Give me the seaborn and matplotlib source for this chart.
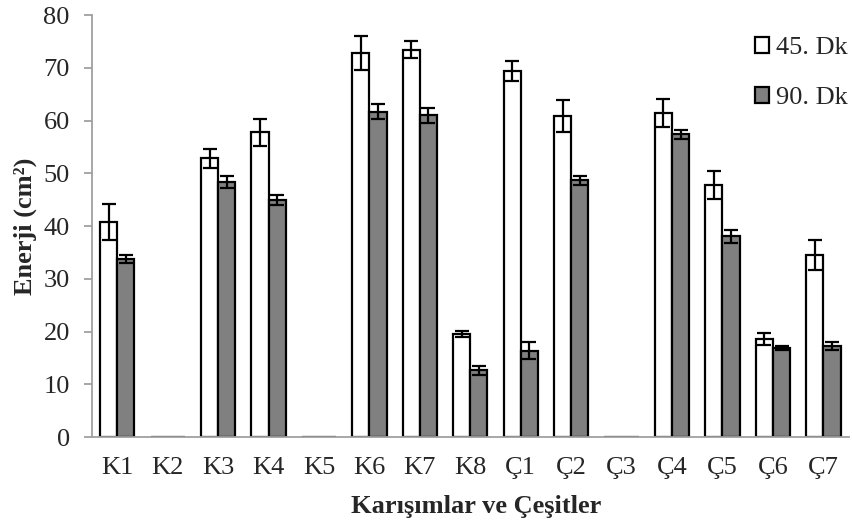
import matplotlib
matplotlib.use("Agg")
import matplotlib.pyplot as plt
import seaborn as sns
import pandas as pd
import numpy as np

categories = ["K1", "K2", "K3", "K4", "K5", "K6", "K7", "K8",
              "Ç1", "Ç2", "Ç3", "Ç4", "Ç5", "Ç6", "Ç7"]
series_names = ["45. Dk", "90. Dk"]
values_45 = [40.8, 0, 52.9, 57.8, 0, 72.9, 73.5, 19.5, 69.4, 60.9, 0, 61.4, 47.8, 18.6, 34.5]
errors_45 = [3.5, 0, 1.8, 2.6, 0, 3.2, 1.65, 0.6, 1.85, 3.1, 0, 2.65, 2.7, 1.1, 2.9]
values_90 = [33.7, 0, 48.4, 45.0, 0, 61.7, 61.0, 12.7, 16.4, 48.7, 0, 57.4, 38.1, 16.9, 17.3]
errors_90 = [0.75, 0, 1.1, 1.0, 0, 1.4, 1.45, 0.85, 1.6, 0.9, 0, 0.9, 1.2, 0.45, 0.7]

df = pd.DataFrame({
    "Kategori": categories * 2,
    "Seri": [series_names[0]] * len(categories) + [series_names[1]] * len(categories),
    "Enerji": values_45 + values_90,
})
errs = [errors_45, errors_90]

sns.set_style("white")
plt.rcParams["font.family"] = ["Liberation Serif", "DejaVu Serif"]
FS = 19

fig = plt.figure(figsize=(8.52, 5.26), dpi=100)
ax = fig.add_axes([0.108, 0.169, 0.888, 0.802])

sns.barplot(data=df, x="Kategori", y="Enerji", hue="Seri", order=categories,
            hue_order=series_names, palette={"45. Dk": "white", "90. Dk": "#808080"},
            edgecolor="black", linewidth=1.6, width=0.68, errorbar=None, ax=ax,
            saturation=1)

for cont, e in zip(ax.containers, errs):
    xs = [p.get_x() + p.get_width() / 2 for p in cont.patches]
    hs = [p.get_height() for p in cont.patches]
    xe = [x for x, er in zip(xs, e) if er > 0]
    he = [h for h, er in zip(hs, e) if er > 0]
    ee = [er for er in e if er > 0]
    ax.errorbar(xe, he, yerr=ee, fmt="none", ecolor="black", elinewidth=1.6,
                capsize=5, capthick=1.6, zorder=5)

ax.set_ylim(0, 80)
ax.set_xlim(-0.5, len(categories) - 0.5)
ax.set_yticks(range(0, 81, 10))
sns.despine(ax=ax)
for s in ["left", "bottom"]:
    ax.spines[s].set_color("#a0a0a0")
    ax.spines[s].set_linewidth(1.3)
ax.tick_params(axis="y", which="both", left=True, length=6, width=1.3,
               color="#a0a0a0", direction="out", labelsize=FS, pad=10)
ax.tick_params(axis="x", bottom=False, labelsize=FS, pad=11)

ax.set_xlabel("Karışımlar ve Çeşitler", fontsize=FS, fontweight="bold")
ax.set_ylabel("Enerji (cm²)", fontsize=FS, fontweight="bold")
ax.xaxis.set_label_coords(0.508, -0.137)
ax.yaxis.set_label_coords(-0.073, 0.5)

leg = ax.legend(loc="upper right", frameon=False, fontsize=FS, handlelength=0.55,
                handleheight=0.55, handletextpad=0.25, labelspacing=1.05,
                bbox_to_anchor=(1.03, 1.005))

fig.savefig("out.png", dpi=100)
